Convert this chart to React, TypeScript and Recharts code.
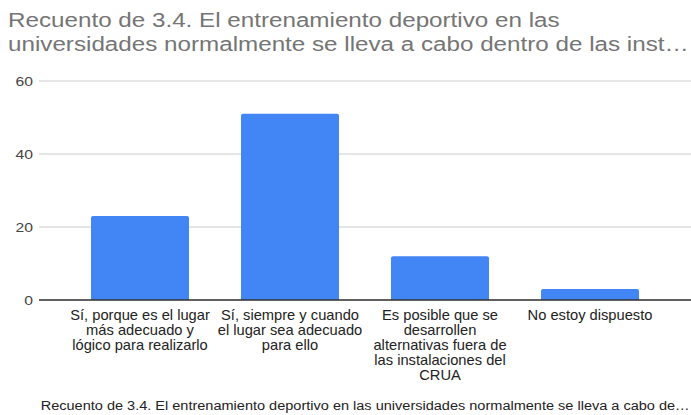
import { BarChart, Bar, XAxis, YAxis, CartesianGrid } from "recharts";

const categories = [
  "Sí, porque es el lugar\nmás adecuado y\nlógico para realizarlo",
  "Sí, siempre y cuando\nel lugar sea adecuado\npara ello",
  "Es posible que se\ndesarrollen\nalternativas fuera de\nlas instalaciones del\nCRUA",
  "No estoy dispuesto",
];
const counts = [23, 51, 12, 3];
const yTicks = [0, 20, 40, 60];

const title =
  "Recuento de 3.4. El entrenamiento deportivo en las\nuniversidades normalmente se lleva a cabo dentro de las inst…";
const xTitle =
  "Recuento de 3.4. El entrenamiento deportivo en las universidades normalmente se lleva a cabo de…";

const data = categories.map((c, i) => ({ name: c, value: counts[i] }));

const FONT = "'Liberation Sans', Arial, sans-serif";
const SX = 1.21; // reference text is a little wider than the font renders here

function CategoryTick(props: any) {
  const { x, y, payload } = props;
  const lines = String(payload.value).split("\n");
  return (
    <g transform={`translate(${x},${y}) scale(1.05,1)`}>
      <text x={0} y={0} textAnchor="middle" fontSize={14} fill="#222" fontFamily={FONT}>
        {lines.map((l, i) => (
          <tspan key={i} x={0} dy={i === 0 ? 20 : 15}>
            {l}
          </tspan>
        ))}
      </text>
    </g>
  );
}

function ValueTick(props: any) {
  const { x, y, payload } = props;
  return (
    <g transform={`translate(${x},${y}) scale(${SX},1)`}>
      <text x={0} y={0} dy={5} textAnchor="end" fontSize={13} fill="#444" fontFamily={FONT}>
        {payload.value}
      </text>
    </g>
  );
}

export default function App() {
  return (
    <div style={{ position: "absolute", left: 0, top: 0, width: 691, height: 415, background: "#fff", fontFamily: FONT, overflow: "hidden" }}>
      <div
        style={{
          position: "absolute",
          left: 8,
          top: 8,
          fontSize: 20,
          lineHeight: "24px",
          color: "#757575",
          whiteSpace: "pre",
          transform: `scaleX(${SX})`,
          transformOrigin: "0 0",
        }}
      >
        {title}
      </div>
      <BarChart
        width={691}
        height={415}
        data={data}
        margin={{ top: 81, right: 0, bottom: 0, left: 0 }}
        barCategoryGap={26}
      >
        <CartesianGrid vertical={false} stroke="#ccc" />
        <YAxis
          width={39}
          domain={[0, 60]}
          ticks={yTicks}
          axisLine={false}
          tickLine={false}
          tickSize={0}
          tickMargin={6}
          tick={<ValueTick />}
        />
        <XAxis
          dataKey="name"
          height={115}
          padding={{ left: 26, right: 26 }}
          axisLine={{ stroke: "#333", strokeWidth: 1.5 }}
          tickLine={false}
          tickSize={0}
          tickMargin={0}
          interval={0}
          tick={<CategoryTick />}
        />
        <Bar dataKey="value" fill="#4285F4" radius={[2, 2, 0, 0]} isAnimationActive={false} />
      </BarChart>
      <div
        style={{
          position: "absolute",
          left: 39,
          width: 652,
          top: 399,
          textAlign: "center",
          fontSize: 12,
          color: "#222",
          whiteSpace: "nowrap",
        }}
      >
        <span style={{ display: "inline-block", transform: `scaleX(${SX})` }}>{xTitle}</span>
      </div>
    </div>
  );
}
